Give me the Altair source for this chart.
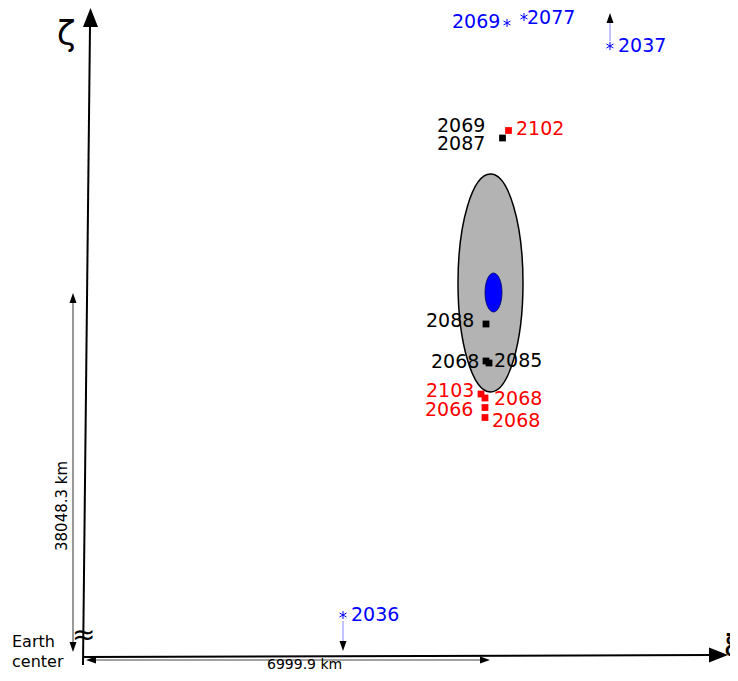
import altair as alt
import pandas as pd

# ---------------- data (diagram coordinates, xi to the right, zeta downward) ----------------
# uncertainty region and nominal position
ellipse_names = ["uncertainty", "nominal"]
ellipse_xi = [490.5, 493.5]
ellipse_zeta = [283.0, 292.5]
ellipse_rx = [32.5, 8.5]
ellipse_ry = [109.0, 19.5]
ellipse_fill = ["#b3b3b3", "#0000ff"]
ellipse_stroke = ["#000000", "#000066"]
ellipse_sw = [1.5, 0.8]

# keyholes (squares)
key_xi = [502.5, 486, 486, 489, 508.5, 481, 485, 485, 485]
key_zeta = [138, 324, 361, 363, 130.5, 394, 398, 407.5, 417.5]
key_kind = ["black", "black", "black", "black", "red", "red", "red", "red", "red"]

# close approaches (asterisks)
star_xi = [507, 524, 610, 343]
star_zeta = [23, 17, 46, 615]

# year labels
lab_text = ["2069", "2077", "2037", "2036",
            "2069", "2087", "2102",
            "2088", "2068", "2085",
            "2103", "2068", "2066", "2068"]
lab_xi = [452, 527, 618, 351,
          437, 437, 516,
          426, 431, 494,
          426, 494, 425, 492]
lab_zeta = [28, 24, 52, 621,
            132, 150, 135,
            327, 368, 367,
            397, 405, 416, 427]
lab_kind = ["blue", "blue", "blue", "blue",
            "black", "black", "red",
            "black", "black", "black",
            "red", "red", "red", "red"]

# axes and dimension arrows: segments
seg_x = [83, 83, 73, 94, 343, 610]
seg_y = [665, 657, 302, 660, 621, 41]
seg_x2 = [90, 711, 73, 482, 343, 610]
seg_y2 = [26, 655, 643, 660, 642, 22]
seg_col = ["#000000", "#000000", "#333333", "#444444", "#9999ff", "#9999ff"]
seg_w = [2, 2, 1, 1, 1.2, 1.2]

# arrow heads (tip position, direction)
head_x = [90.5, 728, 73, 73, 86, 490, 343, 610]
head_y = [8, 655, 293, 652, 660, 660, 651, 13]
head_angle = [0, 90, 0, 180, 270, 90, 180, 0]
head_big = [True, True, False, False, False, False, False, False]

# other texts
misc_text = ["Earth", "center", "6999.9 km", "ζ", "ξ", "≈"]
misc_x = [12, 12, 267, 57, 724, 72]
misc_y = [647, 667, 669, 45, 657, 644]
misc_size = [16, 16, 14, 34, 32, 28]

vert_text = ["38048.3 km"]
vert_x = [67]
vert_y = [551]

# ---------------- helpers ----------------
COLORS = {"black": "#000000", "red": "#ff0000", "blue": "#0000ff"}


def ellipse_path(rx, ry):
    k = 0.5523
    return (f"M0,{-ry}C{rx*k},{-ry} {rx},{-ry*k} {rx},0"
            f"C{rx},{ry*k} {rx*k},{ry} 0,{ry}"
            f"C{-rx*k},{ry} {-rx},{ry*k} {-rx},0"
            f"C{-rx},{-ry*k} {-rx*k},{-ry} 0,{-ry}Z")


BIG_HEAD = "M0,0L-7.5,19L7.5,19Z"
SMALL_HEAD = "M0,0L-3.5,10L3.5,10Z"
STAR = "M0,-4L0,4M-3.5,-2L3.5,2M-3.5,2L3.5,-2"

W, H = 722, 661
xs = alt.Scale(domain=[8, 8 + W], nice=False, zero=False)
ys = alt.Scale(domain=[8, 8 + H], nice=False, zero=False, reverse=True)
X = lambda f: alt.X(f, type="quantitative", scale=xs, axis=None)
Y = lambda f: alt.Y(f, type="quantitative", scale=ys, axis=None)

ell_df = pd.DataFrame({
    "name": ellipse_names, "x": ellipse_xi, "y": ellipse_zeta,
    "shape": [ellipse_path(a, b) for a, b in zip(ellipse_rx, ellipse_ry)],
    "fill": ellipse_fill, "stroke": ellipse_stroke, "sw": ellipse_sw,
})
ellipses = alt.Chart(ell_df).mark_point(filled=True, opacity=1, size=4).encode(
    x=X("x"), y=Y("y"),
    shape=alt.Shape("shape:N", scale=None),
    fill=alt.Fill("fill:N", scale=None),
    stroke=alt.Stroke("stroke:N", scale=None),
    strokeWidth=alt.StrokeWidth("sw:Q", scale=None),
)

seg_df = pd.DataFrame({"x": seg_x, "y": seg_y, "x2": seg_x2, "y2": seg_y2,
                       "c": seg_col, "w": seg_w})
segments = alt.Chart(seg_df).mark_rule().encode(
    x=X("x"), y=Y("y"), x2="x2:Q", y2="y2:Q",
    color=alt.Color("c:N", scale=None),
    strokeWidth=alt.StrokeWidth("w:Q", scale=None),
)

head_df = pd.DataFrame({"x": head_x, "y": head_y, "a": head_angle,
                        "shape": [BIG_HEAD if b else SMALL_HEAD for b in head_big]})
heads = alt.Chart(head_df).mark_point(filled=True, opacity=1, size=4, color="black").encode(
    x=X("x"), y=Y("y"),
    shape=alt.Shape("shape:N", scale=None),
    angle=alt.Angle("a:Q", scale=None),
)

star_df = pd.DataFrame({"x": star_xi, "y": star_zeta})
stars = alt.Chart(star_df).mark_point(shape=STAR, size=4, filled=False, opacity=1,
                                      stroke="#0000ff", strokeWidth=1).encode(
    x=X("x"), y=Y("y"))

key_df = pd.DataFrame({"x": key_xi, "y": key_zeta, "c": [COLORS[k] for k in key_kind]})
keys = alt.Chart(key_df).mark_square(size=46, opacity=1).encode(
    x=X("x"), y=Y("y"), color=alt.Color("c:N", scale=None))

lab_df = pd.DataFrame({"t": lab_text, "x": lab_xi, "y": lab_zeta,
                       "c": [COLORS[k] for k in lab_kind]})
labels = alt.Chart(lab_df).mark_text(align="left", baseline="alphabetic",
                                     font="DejaVu Sans", fontSize=19).encode(
    x=X("x"), y=Y("y"), text="t:N", color=alt.Color("c:N", scale=None))

misc_df = pd.DataFrame({"t": misc_text, "x": misc_x, "y": misc_y, "s": misc_size})
misc = alt.Chart(misc_df).mark_text(align="left", baseline="alphabetic",
                                    font="DejaVu Sans", color="black").encode(
    x=X("x"), y=Y("y"), text="t:N", size=alt.Size("s:Q", scale=None))

vert_df = pd.DataFrame({"t": vert_text, "x": vert_x, "y": vert_y})
vert = alt.Chart(vert_df).mark_text(align="left", baseline="alphabetic", angle=270,
                                    font="DejaVu Sans", fontSize=15, color="black").encode(
    x=X("x"), y=Y("y"), text="t:N")

chart = alt.layer(ellipses, segments, heads, stars, keys, labels, misc, vert).properties(
    width=W, height=H, padding=0, autosize=alt.AutoSizeParams(type="none"),
    background="white",
).configure_view(stroke=None)

chart.save("out.html", embed_options={"renderer": "svg", "actions": False})
